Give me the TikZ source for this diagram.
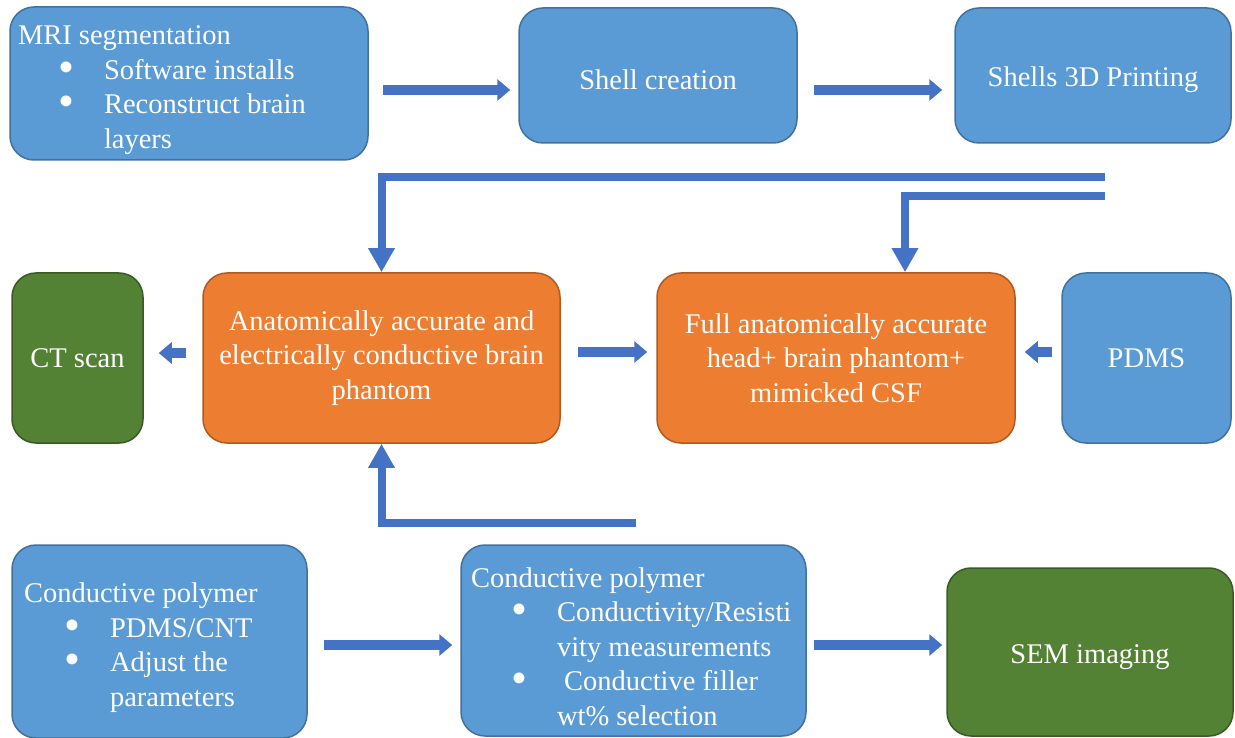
\documentclass[tikz,border=0pt]{standalone}
\usepackage{fontspec}
\setmainfont{Liberation Serif}
\usetikzlibrary{arrows.meta,calc}

\definecolor{boxblue}{HTML}{5B9BD5}
\definecolor{boxblueline}{HTML}{41719C}
\definecolor{boxorange}{HTML}{ED7D31}
\definecolor{boxorangeline}{HTML}{AE5A21}
\definecolor{boxgreen}{HTML}{548235}
\definecolor{boxgreenline}{HTML}{3A5A24}
\definecolor{flowblue}{HTML}{4472C4}

\newcommand{\bul}[1]{\makebox[86pt][r]{\raisebox{-3pt}[0pt][0pt]{\scalebox{1.6}{\textbullet}}\hspace{30pt}}\mbox{#1}}
\newcommand{\cont}[1]{\hspace*{86pt}\mbox{#1}}

\begin{document}
\begin{tikzpicture}[x=1pt, y=-1pt,
    box/.style={rectangle, rounded corners=24pt, line width=1.5pt, text=white,
        font=\fontsize{28.5}{34.5}\selectfont, align=flush center},
    tall/.style={execute at begin node={\rule{0pt}{#1}}},
    bluebox/.style={box, fill=boxblue, draw=boxblueline},
    orangebox/.style={box, fill=boxorange, draw=boxorangeline},
    greenbox/.style={box, fill=boxgreen, draw=boxgreenline},
    blockarrow/.style={draw=flowblue, line width=10pt, -{Triangle[width=21pt,length=13pt]}},
    elbow/.style={draw=flowblue, line width=8pt, -{Triangle[width=25pt,length=24pt]}}]
    \useasboundingbox (0,0) rectangle (1235,738);

    % top row
    \node[bluebox, tall=32pt, align=flush left, text width=342pt, inner xsep=8pt, minimum height=153pt] (mri) at (189,83.5)
        {MRI segmentation\\ \bul{Software installs}\\ \bul{Reconstruct brain}\\ \cont{layers}};
    \node[bluebox, tall=29pt, minimum width=278pt, minimum height=135pt] (shell) at (658,75.5) {Shell creation};
    \node[bluebox, tall=29pt, minimum width=276pt, minimum height=135pt] (print) at (1093,75.5) {Shells 3D Printing};

    % middle row
    \node[greenbox, minimum width=131pt, minimum height=170pt] (ct) at (77.5,358) {CT scan};
    \node[orangebox, tall=36pt, minimum width=357pt, minimum height=170pt] (brain) at (381.5,358)
        {Anatomically accurate and\\ electrically conductive brain\\ phantom};
    \node[orangebox, tall=32pt, minimum width=358pt, minimum height=170pt] (full) at (836,358)
        {Full anatomically accurate\\ head+ brain phantom+\\ mimicked CSF};
    \node[bluebox, minimum width=169pt, minimum height=170pt] (pdms) at (1146.5,358) {PDMS};

    % bottom row
    \node[bluebox, tall=32pt, align=flush left, text width=271pt, inner xsep=12pt, minimum height=193pt] (polyA) at (159.5,641.5)
        {Conductive polymer\\ \bul{PDMS/CNT}\\ \bul{Adjust the}\\ \cont{parameters}};
    \node[bluebox, tall=32pt, align=flush left, text width=325pt, inner xsep=10pt, minimum height=191pt] (polyB) at (633.5,640.5)
        {Conductive polymer\\ \bul{Conductivity/Resisti}\\ \cont{vity measurements}\\ \bul{\ Conductive filler}\\ \cont{wt\% selection}};
    \node[greenbox, tall=29pt, minimum width=286pt, minimum height=168pt] (sem) at (1090,652) {SEM imaging};

    % feed lines
    \coordinate (feedA) at (1105,177);
    \coordinate (feedB) at (1105,196);
    \coordinate (feedC) at (636,523);

    \draw[blockarrow] ($(mri.east)+(14,6.5)$) -- ($(shell.west)+(-8,14.5)$);
    \draw[blockarrow] ($(shell.east)+(16,14.5)$) -- ($(print.west)+(-12,14.5)$);
    \draw[elbow] (feedA) -| (brain.north);
    \draw[elbow] (feedB) -| ([xshift=69pt]full.north);
    \draw[blockarrow] ($(brain.west)+(-16,-5)$) -- ($(ct.east)+(15,-5)$);
    \draw[blockarrow] ($(brain.east)+(17,-6)$) -- ($(full.west)+(-9,-6)$);
    \draw[blockarrow] ($(pdms.west)+(-9,-6)$) -- ($(full.east)+(9,-6)$);
    \draw[elbow] (feedC) -| (brain.south);
    \draw[blockarrow] ($(polyA.east)+(16,3.5)$) -- ($(polyB.west)+(-8,4.5)$);
    \draw[blockarrow] ($(polyB.east)+(7,4.5)$) -- ($(sem.west)+(-4,-7)$);
\end{tikzpicture}
\end{document}
